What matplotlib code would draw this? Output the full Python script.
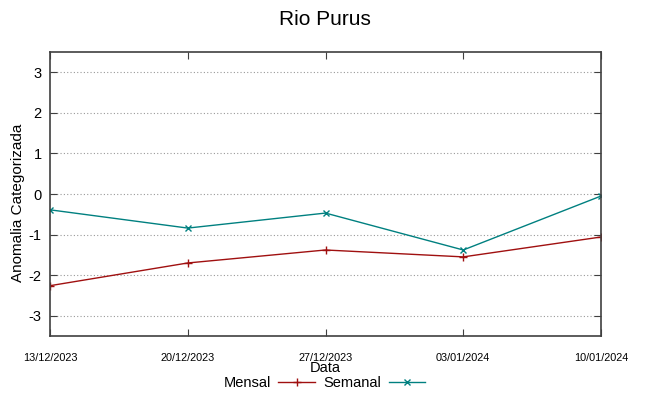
import matplotlib
matplotlib.use("Agg")
import matplotlib.pyplot as plt

dates = ["13/12/2023", "20/12/2023", "27/12/2023", "03/01/2024", "10/01/2024"]
mensal = [-2.26, -1.70, -1.38, -1.55, -1.06]
semanal = [-0.39, -0.84, -0.47, -1.38, -0.05]
yticks = [-3, -2, -1, 0, 1, 2, 3]

plt.rcParams['font.family'] = ['Liberation Sans', 'DejaVu Sans']

fig = plt.figure(figsize=(6.49, 3.96), dpi=100)
ax = fig.add_axes([50/649, 60/396, 551/649, 284/396])

x = list(range(len(dates)))
ax.plot(x, mensal, color='#a01010', lw=1, marker='+', ms=6, mew=1, label='Mensal')
ax.plot(x, semanal, color='#008080', lw=1, marker='x', ms=4.5, mew=1, label='Semanal')

ax.set_xlim(0, len(dates) - 1)
ax.set_ylim(-3.5, 3.5)
ax.set_yticks(yticks)
ax.set_yticklabels([str(v) for v in yticks], fontsize=10.5)
ax.set_xticks(x)
ax.set_xticklabels(dates, fontsize=7.8)
ax.tick_params(axis='x', direction='in', pad=12, top=True, length=5, color='#404040')
ax.tick_params(axis='y', direction='in', pad=6, right=True, length=5, color='#404040')
ax.grid(axis='y', linestyle=(0, (1, 2)), color='#999999', lw=0.8)
for s in ax.spines.values():
    s.set_color('#404040')
    s.set_linewidth(1.2)

ax.set_ylabel('Anomalia Categorizada', fontsize=11, labelpad=1)
ax.yaxis.set_label_coords(-0.046, 0.47)
ax.set_xlabel('Data', fontsize=10.5, labelpad=-1)
fig.suptitle('Rio Purus', fontsize=15, y=0.975)

fig.legend(loc='center', bbox_to_anchor=(0.5, 1 - 383/396), ncol=2, frameon=False,
           markerfirst=False, fontsize=10.5, handlelength=2.5, columnspacing=0.6,
           handletextpad=0.5, borderpad=0)

fig.savefig('out.png', dpi=100)
